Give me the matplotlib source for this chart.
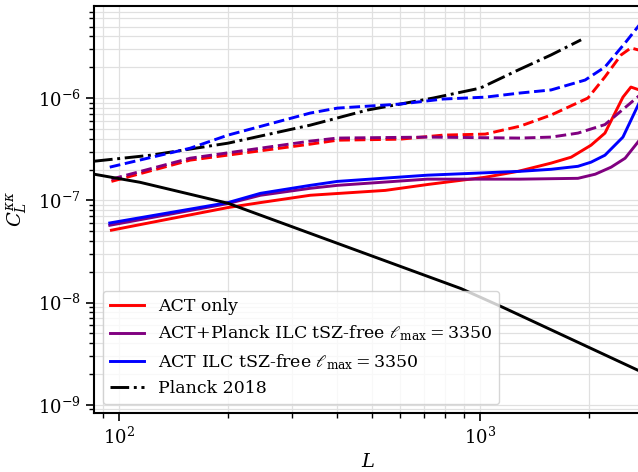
import numpy as np
import matplotlib
matplotlib.use("Agg")
import matplotlib.pyplot as plt
from matplotlib.ticker import NullFormatter

plt.rcParams.update({
    "font.family": "serif",
    "font.serif": ["DejaVu Serif"],
    "mathtext.fontset": "dejavuserif",
    "font.size": 13,
    "axes.linewidth": 1.5,
    "xtick.major.width": 1.2,
    "ytick.major.width": 1.2,
    "xtick.minor.width": 1.0,
    "ytick.minor.width": 1.0,
    "xtick.major.size": 6,
    "ytick.major.size": 6,
    "xtick.minor.size": 3.5,
    "ytick.minor.size": 3.5,
})

# solid curves
L_act = [95, 200, 246, 338, 546, 718, 1033, 1275, 1573, 1788, 2030, 2218, 2488, 2618, 2800]
act_only = [5.1e-8, 8.5e-8, 9.5e-8, 1.12e-7, 1.25e-7, 1.43e-7, 1.68e-7, 1.92e-7,
            2.31e-7, 2.64e-7, 3.46e-7, 4.54e-7, 1.02e-6, 1.28e-6, 1.18e-6]

L_ilc = [94, 200, 246, 338, 402, 713, 1291, 1573, 1867, 2030, 2218, 2488, 2800]
act_ilc = [6.0e-8, 9.5e-8, 1.17e-7, 1.40e-7, 1.53e-7, 1.76e-7, 1.92e-7, 2.01e-7,
           2.15e-7, 2.36e-7, 2.76e-7, 4.15e-7, 1.0e-6]

L_pl = [94, 200, 246, 338, 402, 713, 1000, 1291, 1867, 2085, 2308, 2523, 2800]
act_planck = [5.7e-8, 9.3e-8, 1.12e-7, 1.31e-7, 1.40e-7, 1.61e-7, 1.61e-7, 1.61e-7,
              1.64e-7, 1.80e-7, 2.11e-7, 2.58e-7, 4.1e-7]

# dashed curves
L_act_d = [95, 157, 338, 402, 600, 790, 1033, 1291, 1573, 1990, 2218, 2459, 2618, 2800]
act_only_d = [1.53e-7, 2.47e-7, 3.54e-7, 3.87e-7, 3.96e-7, 4.34e-7, 4.44e-7, 5.31e-7,
              6.82e-7, 1.0e-6, 1.61e-6, 2.64e-6, 3.09e-6, 2.9e-6]

L_pl_d = [95, 157, 338, 402, 713, 1291, 1573, 1867, 2218, 2800]
act_planck_d = [1.61e-7, 2.58e-7, 3.79e-7, 4.06e-7, 4.15e-7, 4.06e-7, 4.15e-7,
                4.54e-7, 5.5e-7, 1.1e-6]

L_ilc_d = [94, 157, 200, 338, 402, 600, 790, 1033, 1291, 1573, 1955, 2218, 2523, 2800]
act_ilc_d = [2.11e-7, 3.23e-7, 4.34e-7, 7.13e-7, 7.97e-7, 8.73e-7, 9.78e-7, 1.02e-6,
             1.12e-6, 1.20e-6, 1.50e-6, 2.01e-6, 3.46e-6, 5.5e-6]

L_planck = [85, 122, 200, 338, 486, 741, 1000, 1275, 1573, 1905]
planck18 = [2.41e-7, 2.76e-7, 3.62e-7, 5.43e-7, 7.62e-7, 1.0e-6, 1.25e-6, 1.88e-6,
            2.64e-6, 3.71e-6]

L_sig = [85, 114, 200, 356, 885, 1160, 2800]
clkk = [1.80e-7, 1.50e-7, 9.35e-8, 4.44e-8, 1.37e-8, 8.93e-9, 2.1e-9]

W, H = 638, 472
fig = plt.figure(figsize=(W / 100, H / 100), dpi=100)
left_px, right_px = 94, 642
ax = fig.add_axes([left_px / W, 59 / H, (right_px - left_px) / W, (413 - 6) / H])

ax.plot(L_act, act_only, color="red", lw=2.1, label="ACT only")
ax.plot(L_pl, act_planck, color="purple", lw=2.1,
        label=r"ACT+Planck ILC tSZ-free $\ell_{\rm max}=3350$")
ax.plot(L_ilc, act_ilc, color="blue", lw=2.1,
        label=r"ACT ILC tSZ-free $\ell_{\rm max}=3350$")
ax.plot(L_planck, planck18, color="black", lw=2.1, ls="-.", label="Planck 2018")

ax.plot(L_act_d, act_only_d, color="red", lw=2.1, ls="--")
ax.plot(L_pl_d, act_planck_d, color="purple", lw=2.1, ls="--")
ax.plot(L_ilc_d, act_ilc_d, color="blue", lw=2.1, ls="--")
ax.plot(L_sig, clkk, color="black", lw=2.1)

ax.set_xscale("log")
ax.set_yscale("log")
ax.set_xlim(85, 2810)
ax.set_ylim(10 ** -9.08, 10 ** -5.1)
ax.xaxis.set_minor_formatter(NullFormatter())
ax.yaxis.set_minor_formatter(NullFormatter())
ax.grid(True, which="both", color="#e0e0e0", lw=0.9)
ax.set_axisbelow(True)

ax.set_xlabel(r"$L$", fontsize=14, labelpad=4)
ax.set_ylabel(r"$C_L^{\kappa\kappa}$", fontsize=14, labelpad=6)

ax.legend(loc="lower left", fontsize=12.5, handlelength=2.0,
          borderaxespad=0.5)

fig.savefig("out.png", dpi=100)
